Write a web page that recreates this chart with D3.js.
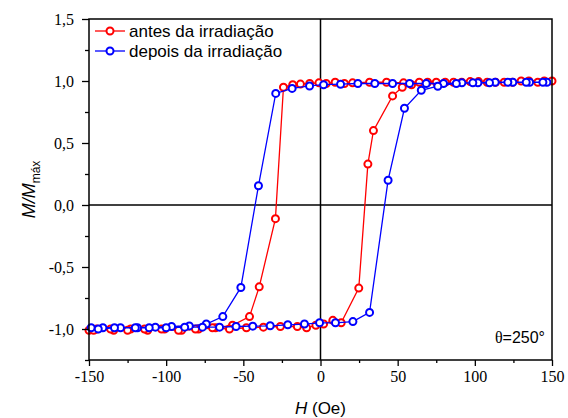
<!DOCTYPE html>
<html>
<head>
<meta charset="utf-8">
<script src="https://cdn.jsdelivr.net/npm/d3@7"></script>
<style>
  body { margin: 0; background: #fff; }
  svg { display: block; }
</style>
</head>
<body>
<svg id="chart"></svg>
<script>
// antes da irradiação (red), descending then ascending branch
const hRedDown = [150, 140.8, 130, 119, 108, 97, 86.2, 75, 64, 53.8, 42.8, 31.8, 20.8, 15.5, 9.5, 3.7, -1, -7, -13, -18, -24, -29.2, -39.7, -46, -57, -68, -79, -90, -101, -112, -123, -134, -145, -150]
const mRedDown = [1.0, 0.99, 1.0, 0.99, 0.99, 0.995, 0.99, 0.99, 0.99, 0.985, 0.99, 0.99, 0.985, 0.98, 0.99, 0.98, 0.985, 0.98, 0.975, 0.97, 0.95, -0.11, -0.66, -0.90, -0.97, -0.99, -1.0, -1.01, -1.0, -1.01, -1.0, -1.01, -1.0, -1.01]
const hRedUp = [-147, -136, -125, -114, -103, -92, -81, -70, -59, -48, -37, -26, -15, -9, -3, 2, 8, 13.4, 24.8, 30.7, 34.3, 46.7, 53, 59, 69.4, 80.8, 91.5, 102.4, 113.4, 124.4, 135, 145]
const mRedUp = [-1.01, -1.0, -1.01, -1.0, -1.0, -1.01, -1.0, -0.99, -1.0, -0.99, -0.985, -0.98, -0.98, -0.99, -0.97, -0.96, -0.93, -0.95, -0.67, 0.33, 0.60, 0.88, 0.95, 0.97, 0.99, 0.99, 0.99, 0.995, 0.99, 0.99, 1.0, 1.0]

// depois da irradiação (blue)
const hBlueDown = [146.7, 135.5, 124.6, 113.2, 102, 91.6, 79.7, 68.5, 57.7, 46.7, 35.2, 24.2, 13, 2, -7.1, -18.4, -29, -40.2, -51.6, -63.3, -74, -85, -96.5, -107, -118.6, -129.6, -141, -148.6]
const mBlueDown = [0.99, 0.99, 0.99, 0.99, 0.985, 0.985, 0.98, 0.98, 0.98, 0.98, 0.98, 0.98, 0.974, 0.97, 0.96, 0.94, 0.90, 0.155, -0.665, -0.90, -0.96, -0.975, -0.98, -0.985, -0.99, -0.99, -0.99, -0.99]
const hBlueUp = [-144, -133.5, -120, -111, -100, -88, -76.5, -65.4, -54.7, -43.9, -32.6, -21.2, -10.4, -0.6, 9.7, 21, 31.8, 43.8, 54.4, 65.3, 76, 88, 98.7, 109.5, 121.4, 133.3, 144.1]
const mBlueUp = [-1.0, -0.99, -0.99, -0.99, -0.99, -0.985, -0.985, -0.985, -0.98, -0.977, -0.974, -0.966, -0.96, -0.95, -0.95, -0.94, -0.866, 0.20, 0.78, 0.925, 0.958, 0.98, 0.985, 0.985, 0.99, 0.99, 0.99]

const seriesNames = ['antes da irradiação', 'depois da irradiação']
const seriesColors = ['#ff0000', '#0000ff']

const xTicks = [-150, -100, -50, 0, 50, 100, 150]
const xMinor = [-125, -75, -25, 25, 75, 125]
const yTicks = [-1.0, -0.5, 0.0, 0.5, 1.0, 1.5]
const yMinor = [-1.25, -0.75, -0.25, 0.25, 0.75, 1.25]

const W = 568, H = 418
const pLeft = 89, pRight = 552, pTop = 19, pBottom = 360

const svg = d3.select('#chart').attr('width', W).attr('height', H)

const x = d3.scaleLinear().domain([-150, 150]).range([pLeft, pRight])
const y = d3.scaleLinear().domain([-1.25, 1.5]).range([pBottom, pTop])

const fmtY = v => d3.format('.1f')(v).replace('.', ',').replace('\u2212', '-')
const fmtX = v => String(v)

// zero lines
svg.append('line')
    .attr('x1', pLeft).attr('x2', pRight)
    .attr('y1', y(0)).attr('y2', y(0))
    .attr('stroke', '#000').attr('stroke-width', 1.5)
svg.append('line')
    .attr('x1', x(0)).attr('x2', x(0))
    .attr('y1', pTop).attr('y2', pBottom)
    .attr('stroke', '#000').attr('stroke-width', 1.5)

// series
const zip = (hs, ms) => hs.map((h, i) => [h, ms[i]])
const data = [
    zip(hRedDown, mRedDown).concat(zip(hRedUp, mRedUp)),
    zip(hBlueDown, mBlueDown).concat(zip(hBlueUp, mBlueUp))
]

const line = d3.line().x(d => x(d[0])).y(d => y(d[1]))

data.forEach((pts, i) => {
    const g = svg.append('g')
    g.append('path')
        .attr('d', line(pts))
        .attr('fill', 'none')
        .attr('stroke', seriesColors[i])
        .attr('stroke-width', 1.3)
    g.selectAll('circle')
        .data(pts)
        .join('circle')
        .attr('cx', d => x(d[0]))
        .attr('cy', d => y(d[1]))
        .attr('r', 3.5)
        .attr('fill', '#fff')
        .attr('stroke', seriesColors[i])
        .attr('stroke-width', 2)
})

// axes
const tickFont = g => g.selectAll('text')
    .attr('font-family', '"Liberation Serif", "Times New Roman", serif')
    .attr('font-size', 16)
    .attr('fill', '#000')

svg.append('g')
    .attr('transform', `translate(0,${pBottom})`)
    .call(d3.axisBottom(x).tickValues(xMinor).tickSize(3).tickFormat(''))
    .call(g => g.select('.domain').remove())
svg.append('g')
    .attr('transform', `translate(0,${pBottom})`)
    .call(d3.axisBottom(x).tickValues(xTicks).tickSize(6).tickPadding(5).tickFormat(fmtX))
    .call(g => g.select('.domain').remove())
    .call(tickFont)

svg.append('g')
    .attr('transform', `translate(${pLeft},0)`)
    .call(d3.axisLeft(y).tickValues(yMinor).tickSize(4).tickFormat(''))
    .call(g => g.select('.domain').remove())
svg.append('g')
    .attr('transform', `translate(${pLeft},0)`)
    .call(d3.axisLeft(y).tickValues(yTicks).tickSize(7).tickPadding(8).tickFormat(fmtY))
    .call(g => g.select('.domain').remove())
    .call(tickFont)

svg.selectAll('.tick line').attr('stroke', '#000').attr('stroke-width', 1.3)

// frame
svg.append('rect')
    .attr('x', pLeft).attr('y', pTop)
    .attr('width', pRight - pLeft).attr('height', pBottom - pTop)
    .attr('fill', 'none').attr('stroke', '#000').attr('stroke-width', 1.5)

// axis titles
const xt = svg.append('text')
    .attr('x', (pLeft + pRight) / 2).attr('y', 414)
    .attr('text-anchor', 'middle')
    .attr('font-family', '"Liberation Sans", Arial, sans-serif')
    .attr('font-size', 17)
xt.append('tspan').attr('font-style', 'italic').text('H')
xt.append('tspan').text(' (Oe)')

const yt = svg.append('text')
    .attr('transform', `translate(35,${(pTop + pBottom) / 2}) rotate(-90)`)
    .attr('text-anchor', 'middle')
    .attr('font-family', '"Liberation Sans", Arial, sans-serif')
    .attr('font-size', 18)
yt.append('tspan').attr('font-style', 'italic').text('M/M')
yt.append('tspan').attr('font-size', 12).attr('dy', 5).text('máx')

// annotation
const ann = svg.append('text')
    .attr('x', 545).attr('y', 343)
    .attr('text-anchor', 'end')
    .attr('font-family', '"Liberation Sans", Arial, sans-serif')
    .attr('font-size', 16)
ann.append('tspan').attr('font-family', '"Liberation Serif", serif').text('θ')
ann.append('tspan').text('=250°')

// legend
const leg = svg.append('g')
seriesNames.forEach((name, i) => {
    const ly = 31 + i * 20
    leg.append('line')
        .attr('x1', 95).attr('x2', 125)
        .attr('y1', ly).attr('y2', ly)
        .attr('stroke', seriesColors[i]).attr('stroke-width', 1.3)
    leg.append('circle')
        .attr('cx', 110).attr('cy', ly).attr('r', 3.5)
        .attr('fill', '#fff')
        .attr('stroke', seriesColors[i]).attr('stroke-width', 2)
    leg.append('text')
        .attr('x', 129).attr('y', ly + 6)
        .attr('font-family', '"Liberation Sans", Arial, sans-serif')
        .attr('font-size', 17)
        .text(name)
})
</script>
</body>
</html>
